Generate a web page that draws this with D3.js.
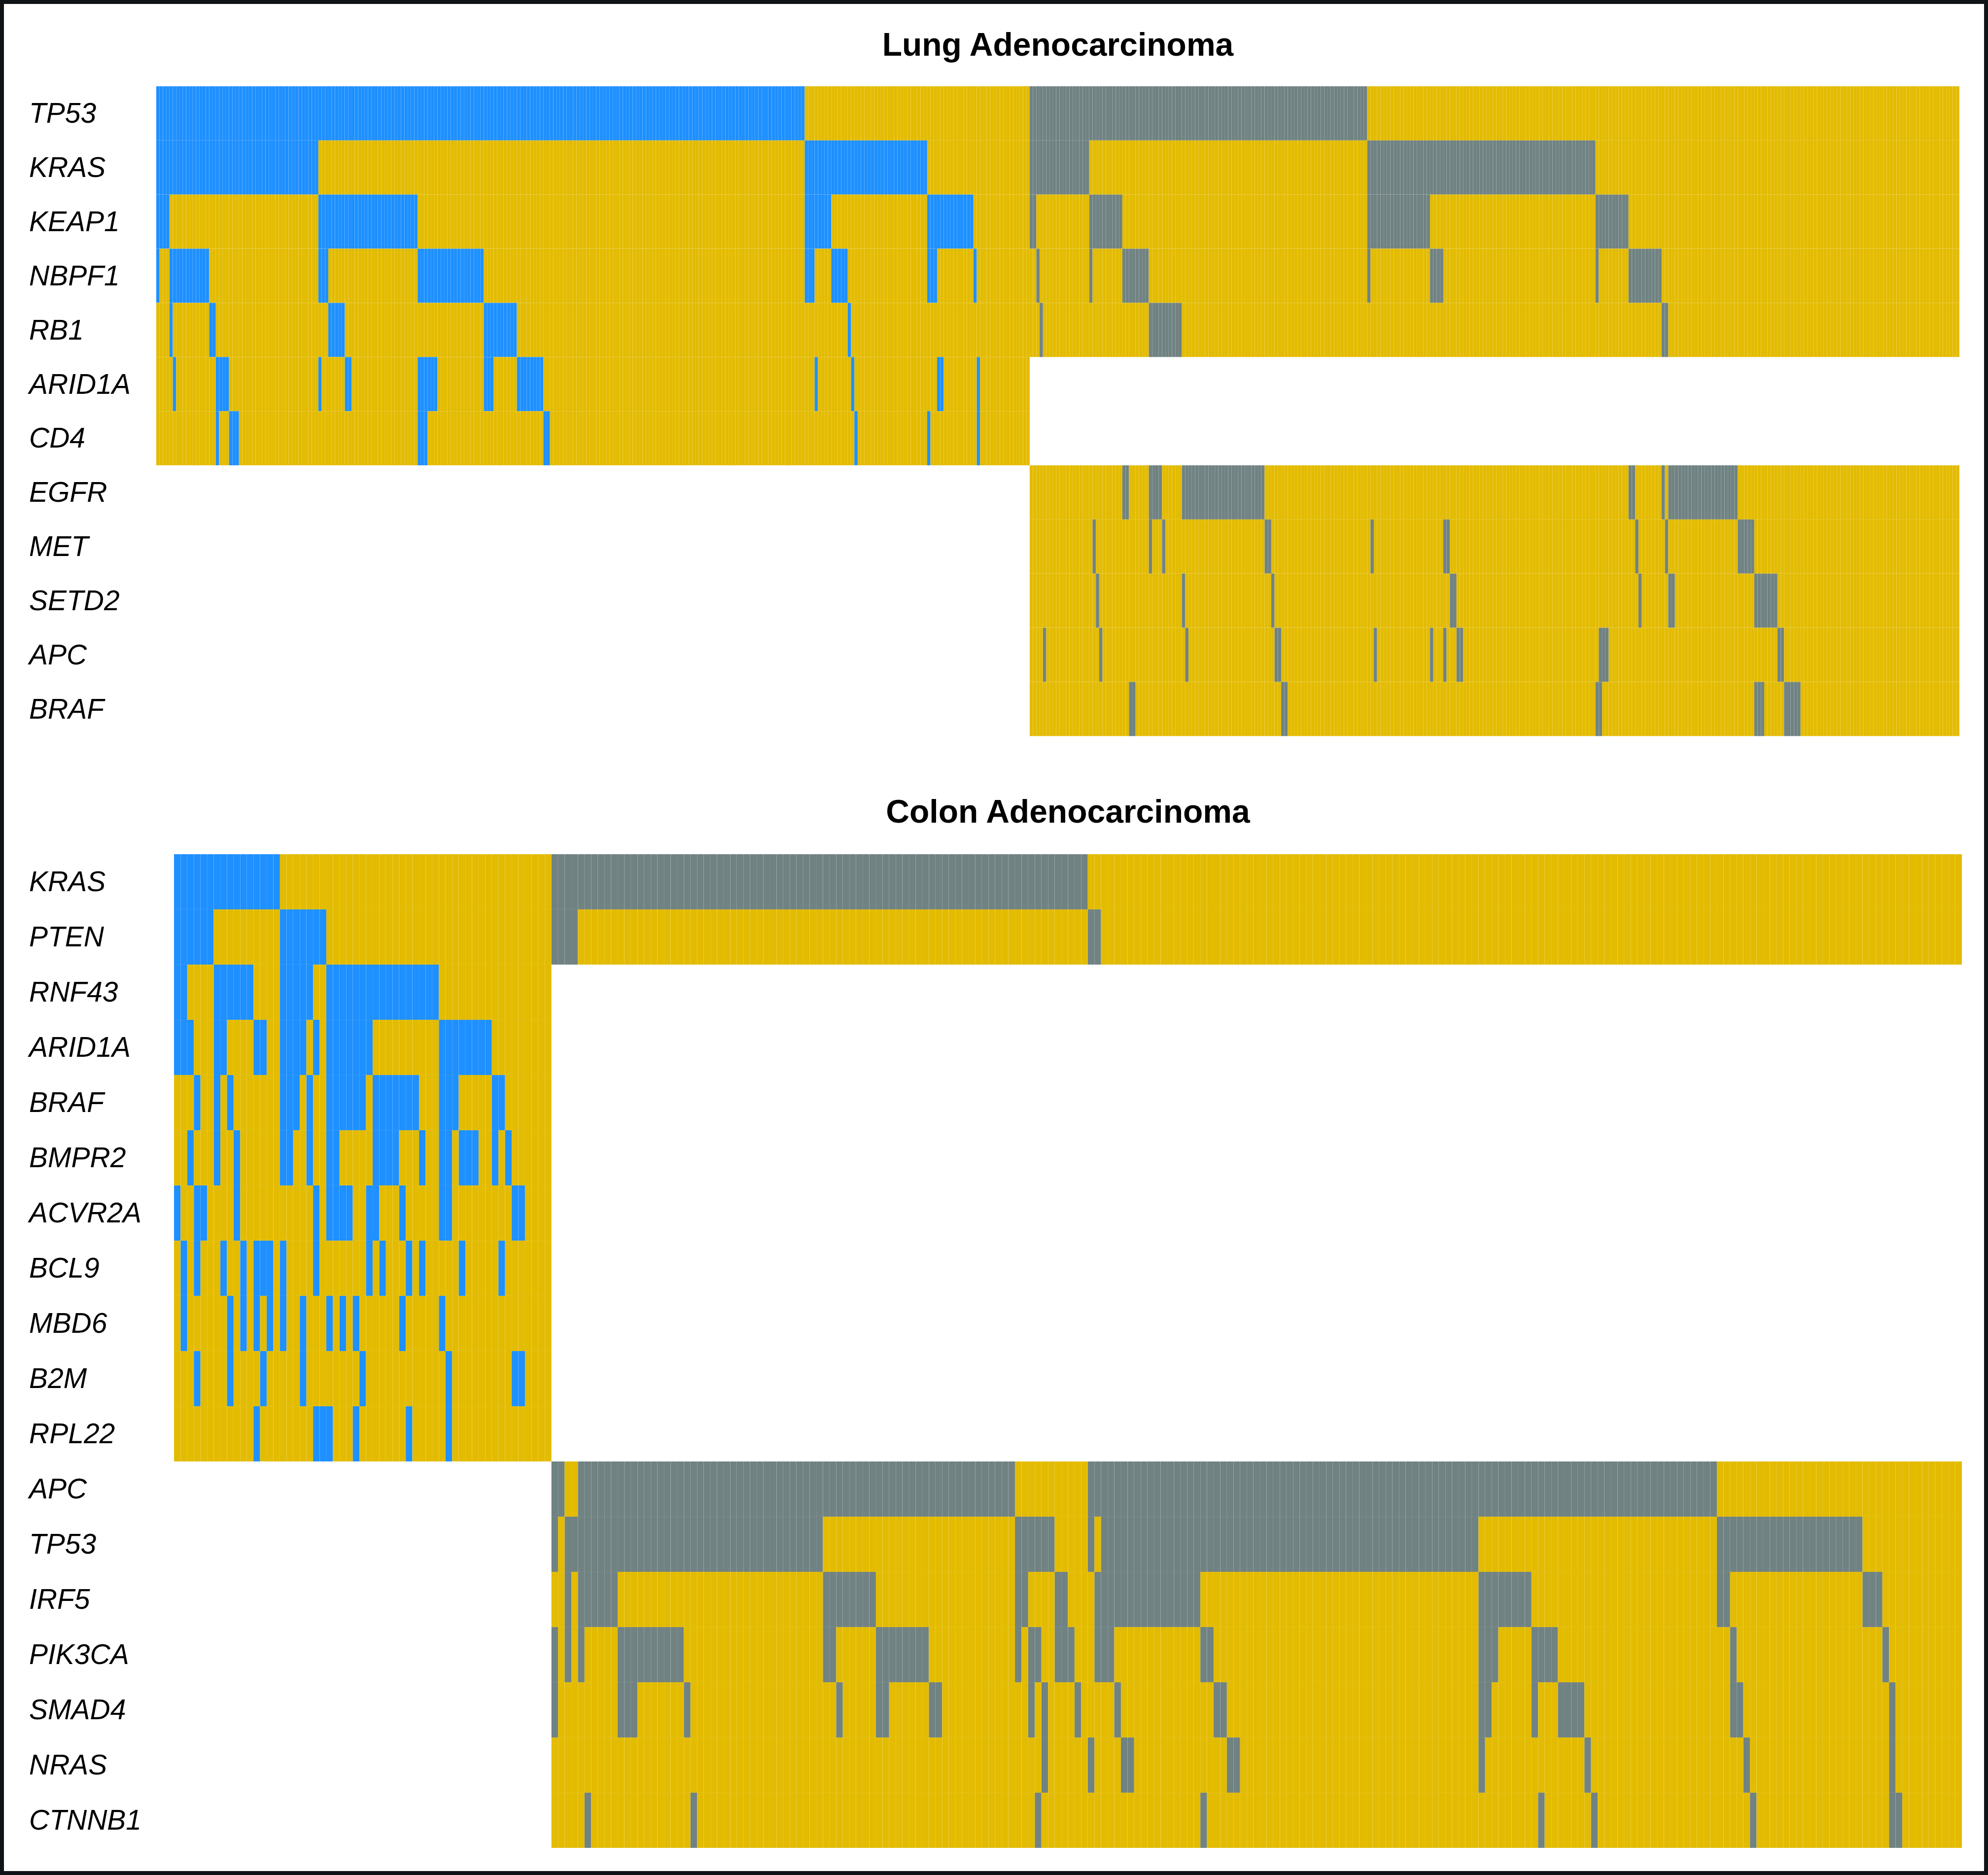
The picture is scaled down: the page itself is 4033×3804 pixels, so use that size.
<!DOCTYPE html>
<html>
<head>
<meta charset="utf-8">
<script src="https://cdn.jsdelivr.net/npm/d3@7"></script>
<style>body{margin:0;background:#fff}</style>
</head>
<body>
<script>
// ---------------- DATA ----------------
const lungGenes = ["TP53","KRAS","KEAP1","NBPF1","RB1","ARID1A","CD4","EGFR","MET","SETD2","APC","BRAF"];
const colonGenes = ["KRAS","PTEN","RNF43","ARID1A","BRAF","BMPR2","ACVR2A","BCL9","MBD6","B2M","RPL22","APC","TP53","IRF5","PIK3CA","SMAD4","NRAS","CTNNB1"];

// number of samples (columns) in each group
const lungBlueN = 264, lungGrayN = 281;
const colonBlueN = 57, colonGrayN = 213;

// mutated sample ranges [start, end) per gene, group 1 (blue) and group 2 (gray)
const lungBlue = [
  ["TP53",   [[0,196]]],
  ["KRAS",   [[0,49],[196,233]]],
  ["KEAP1",  [[0,4],[49,79],[196,204],[233,247]]],
  ["NBPF1",  [[0,1],[4,16],[49,52],[79,99],[196,199],[204,209],[233,236],[247,248]]],
  ["RB1",    [[4,5],[16,18],[52,57],[99,109],[209,210]]],
  ["ARID1A", [[5,6],[18,22],[49,50],[57,59],[79,85],[99,102],[109,117],[199,200],[210,211],[236,238],[248,249]]],
  ["CD4",    [[18,19],[22,25],[79,82],[117,119],[211,212],[233,234],[248,249]]]
];
const lungGray = [
  ["TP53",  [[0,102]]],
  ["KRAS",  [[0,18],[102,171]]],
  ["KEAP1", [[0,2],[18,28],[102,121],[171,181]]],
  ["NBPF1", [[2,3],[18,19],[28,36],[102,103],[121,125],[171,172],[181,191]]],
  ["RB1",   [[3,4],[36,46],[191,193]]],
  ["EGFR",  [[28,30],[36,40],[46,71],[181,183],[191,192],[193,214]]],
  ["MET",   [[19,20],[36,37],[40,41],[71,73],[103,104],[125,127],[183,184],[192,193],[214,219]]],
  ["SETD2", [[20,21],[46,47],[73,74],[127,129],[184,185],[193,195],[219,226]]],
  ["APC",   [[4,5],[21,22],[47,48],[74,76],[104,105],[121,122],[125,126],[129,131],[172,175],[226,228]]],
  ["BRAF",  [[30,32],[76,78],[171,173],[219,222],[228,233]]]
];
const colonBlue = [
  ["KRAS",   [[0,16]]],
  ["PTEN",   [[0,6],[16,23]]],
  ["RNF43",  [[0,2],[6,12],[16,21],[23,40]]],
  ["ARID1A", [[0,3],[6,8],[12,14],[16,20],[21,22],[23,30],[40,48]]],
  ["BRAF",   [[3,4],[6,7],[8,9],[16,19],[20,21],[23,29],[30,37],[40,43],[48,50]]],
  ["BMPR2",  [[2,3],[6,7],[9,10],[16,18],[20,21],[23,25],[30,34],[37,38],[40,42],[43,46],[48,49],[50,51]]],
  ["ACVR2A", [[0,1],[3,5],[9,10],[21,22],[23,27],[29,31],[34,35],[40,42],[51,53]]],
  ["BCL9",   [[1,2],[3,4],[7,8],[10,11],[12,15],[16,17],[21,22],[29,30],[31,32],[35,36],[37,38],[43,44],[49,50]]],
  ["MBD6",   [[1,2],[8,9],[10,11],[12,13],[14,15],[16,17],[19,20],[23,24],[25,26],[27,28],[34,35],[40,41]]],
  ["B2M",    [[3,4],[8,9],[13,14],[19,20],[28,29],[41,42],[51,53]]],
  ["RPL22",  [[12,13],[21,24],[27,28],[35,36],[41,42]]]
];
const colonGray = [
  ["KRAS",   [[0,81]]],
  ["PTEN",   [[0,4],[81,83]]],
  ["APC",    [[0,2],[4,70],[81,176]]],
  ["TP53",   [[0,1],[2,41],[70,76],[81,82],[83,140],[176,198]]],
  ["IRF5",   [[2,3],[4,10],[41,49],[70,72],[76,78],[82,98],[140,148],[176,178],[198,201]]],
  ["PIK3CA", [[0,1],[2,3],[4,5],[10,20],[41,43],[49,57],[70,71],[72,74],[76,79],[82,85],[98,100],[140,143],[148,152],[178,179],[201,202]]],
  ["SMAD4",  [[0,1],[10,13],[20,21],[43,44],[49,51],[57,59],[72,73],[74,75],[79,80],[85,86],[100,102],[140,142],[148,149],[152,156],[178,180],[202,203]]],
  ["NRAS",   [[74,75],[81,82],[86,88],[102,104],[140,141],[156,157],[180,181],[202,203]]],
  ["CTNNB1", [[5,6],[21,22],[73,74],[98,99],[149,150],[157,158],[181,182],[202,204]]]
];

// ---------------- DRAWING ----------------
const W = 4033, H = 3804;
const COLORS = { wt: "#E3BB00", blue: "#1E90FF", gray: "#708282" };
const FONT = "'Liberation Sans', Arial, Helvetica, sans-serif";

const svg = d3.select("body").append("svg")
  .attr("width", W).attr("height", H)
  .attr("viewBox", `0 0 ${W} ${H}`);

svg.append("rect").attr("x", 0).attr("y", 0).attr("width", W).attr("height", H).attr("fill", "#fff");

function drawPanel(cfg) {
  const g = svg.append("g");
  const total = d3.sum(cfg.groups, d => d.n);
  const x = d3.scaleBand().domain(d3.range(total)).range([cfg.left, cfg.right]).padding(0);
  const y = d3.scaleBand().domain(cfg.genes).range([cfg.top, cfg.top + cfg.genes.length * cfg.rowH]).padding(0);

  g.append("text")
    .attr("x", (cfg.left + cfg.right) / 2)
    .attr("y", cfg.titleY)
    .attr("text-anchor", "middle")
    .attr("font-family", FONT)
    .attr("font-weight", "bold")
    .attr("font-size", 66)
    .attr("fill", "#000")
    .text(cfg.title);

  let offset = 0;
  cfg.groups.forEach(grp => {
    const cells = [];
    grp.rows.forEach(([gene, ranges]) => {
      const mutated = new Set();
      ranges.forEach(([a, b]) => { for (let i = a; i < b; i++) mutated.add(i); });
      for (let i = 0; i < grp.n; i++) {
        cells.push({ gene, col: offset + i, mut: mutated.has(i) });
      }
    });
    g.append("g").selectAll("rect").data(cells).join("rect")
      .attr("x", d => x(d.col))
      .attr("y", d => y(d.gene))
      .attr("width", x.bandwidth())
      .attr("height", y.bandwidth())
      .attr("fill", d => d.mut ? COLORS[grp.color] : COLORS.wt)
      .attr("stroke", "rgba(255,255,255,0.11)")
      .attr("stroke-width", 0.6);
    offset += grp.n;
  });

  g.append("g").selectAll("text").data(cfg.genes).join("text")
    .attr("x", 59)
    .attr("y", d => y(d) + y.bandwidth() / 2)
    .attr("dy", "0.34em")
    .attr("font-family", FONT)
    .attr("font-style", "italic")
    .attr("font-size", 57)
    .attr("fill", "#000")
    .text(d => d);
}

drawPanel({
  title: "Lung Adenocarcinoma", titleY: 113,
  genes: lungGenes, top: 175, rowH: 109.86, left: 317, right: 3975,
  groups: [
    { n: lungBlueN, rows: lungBlue, color: "blue" },
    { n: lungGrayN, rows: lungGray, color: "gray" }
  ]
});

drawPanel({
  title: "Colon Adenocarcinoma", titleY: 1669,
  genes: colonGenes, top: 1733, rowH: 112.0, left: 353, right: 3980,
  groups: [
    { n: colonBlueN, rows: colonBlue, color: "blue" },
    { n: colonGrayN, rows: colonGray, color: "gray" }
  ]
});

// outer frame
svg.append("rect")
  .attr("x", 4).attr("y", 4)
  .attr("width", W - 8).attr("height", H - 8)
  .attr("fill", "none")
  .attr("stroke", "#111416")
  .attr("stroke-width", 8);
</script>
</body>
</html>
